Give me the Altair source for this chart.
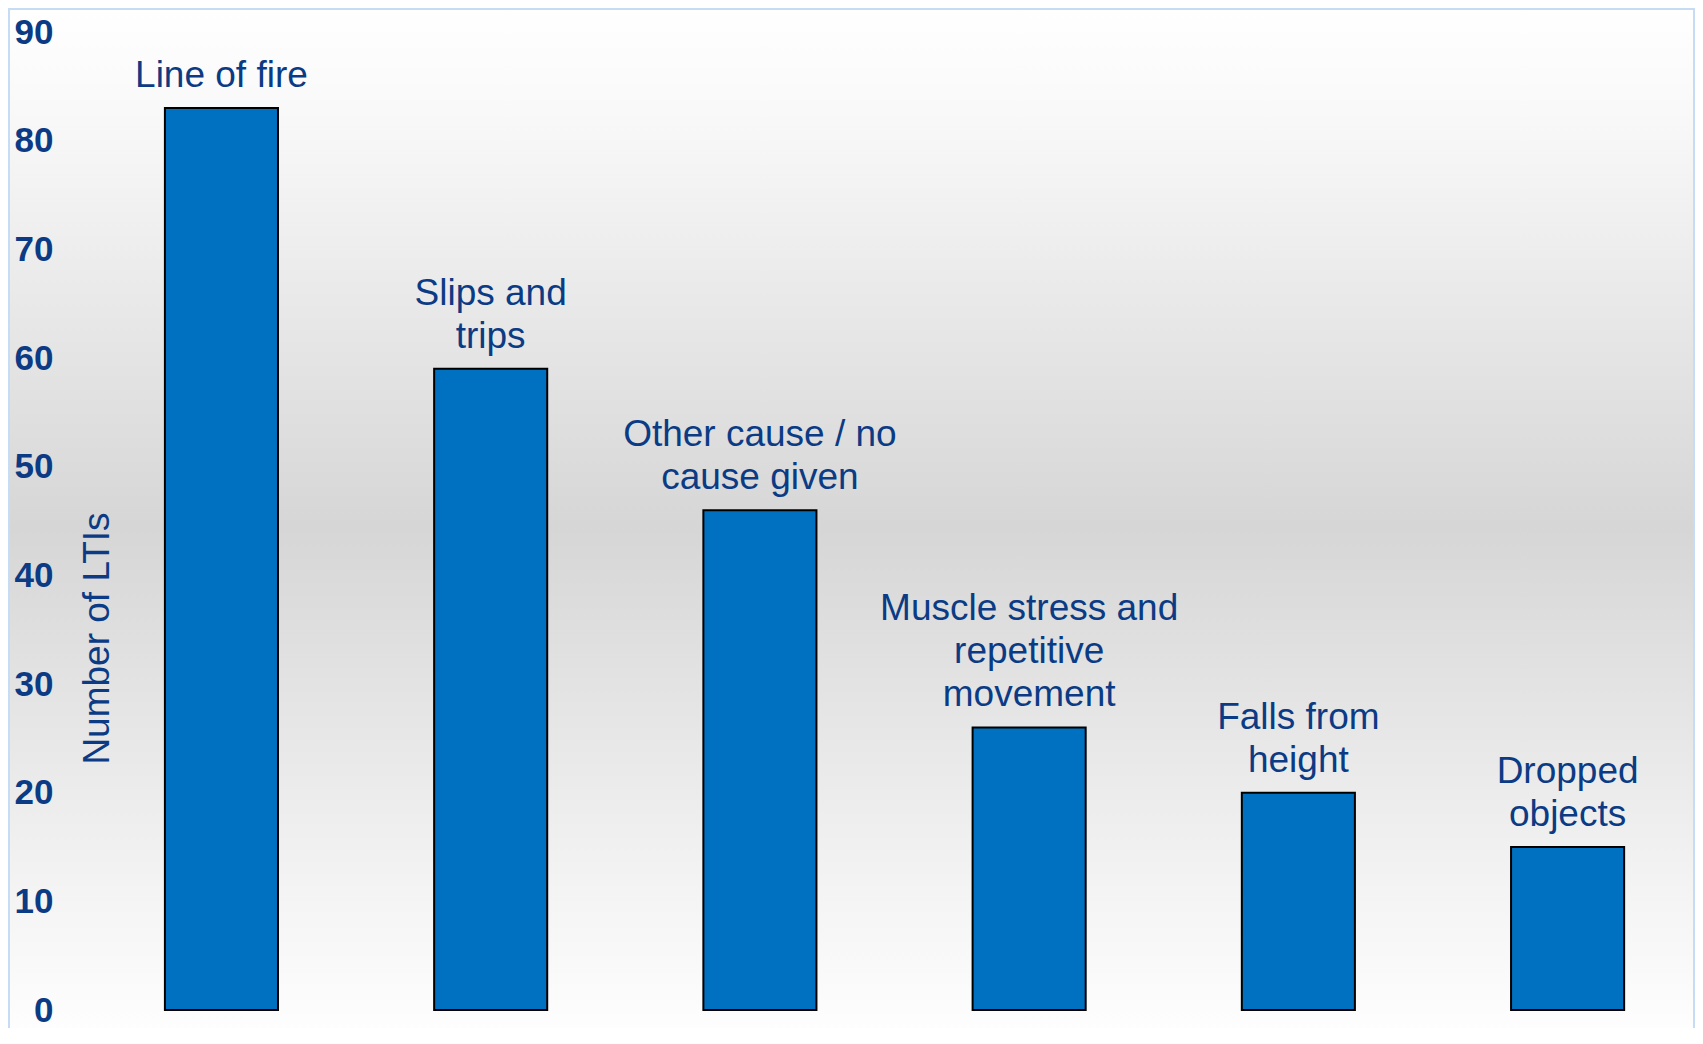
import altair as alt
import pandas as pd

categories = ["Line of fire", "Slips and trips", "Other cause / no cause given",
              "Muscle stress and repetitive movement", "Falls from height", "Dropped objects"]
values = [83, 59, 46, 26, 20, 15]
labels = ["Line of fire", "Slips and\ntrips", "Other cause / no\ncause given",
          "Muscle stress and\nrepetitive\nmovement", "Falls from\nheight", "Dropped\nobjects"]
y_ticks = [0, 10, 20, 30, 40, 50, 60, 70, 80, 90]

df = pd.DataFrame({"cause": categories, "ltis": values, "label": labels})

W, H = 1610, 978
PAD_L, PAD_T, PAD_B = 77, 24, 18
NAVY = "#0b3b84"
FONT = "Liberation Sans"
LINE_H = 43

x_enc = alt.X("cause:N", sort=categories, axis=None,
              scale=alt.Scale(paddingInner=0.58, paddingOuter=0.28, align=0.53))
y_scale = alt.Scale(domain=[0, 90], nice=False, zero=True)

base = alt.Chart(df)

bg = base.mark_rect(
    color=alt.LinearGradient(
        gradient="linear", x1=0, x2=0, y1=0, y2=1,
        stops=[
            alt.GradientStop(offset=0.0, color="#ffffff"),
            alt.GradientStop(offset=0.1, color="#f9f9f9"),
            alt.GradientStop(offset=0.5, color="#d6d6d6"),
            alt.GradientStop(offset=0.85, color="#f4f4f4"),
            alt.GradientStop(offset=1.0, color="#ffffff"),
        ],
    )
).encode(
    x=alt.value(-PAD_L), x2=alt.value(W + 10),
    y=alt.value(-PAD_T - 3), y2=alt.value(H + 40),
)

border = base.mark_rect(fill="transparent", stroke="#c6dcf5", strokeWidth=2).encode(
    x=alt.value(-PAD_L + 1), x2=alt.value(W - 1),
    y=alt.value(-PAD_T + 1), y2=alt.value(H + 60),
)

bars = base.mark_bar(color="#0070C0", stroke="black", strokeWidth=2).encode(
    x=x_enc,
    y=alt.Y("ltis:Q", scale=y_scale,
            axis=alt.Axis(values=y_ticks, title="Number of LTIs", grid=False,
                          domain=False, ticks=False, tickSize=0, labelPadding=32,
                          labelFontSize=35, labelFontWeight="bold", labelColor=NAVY,
                          labelFont=FONT, zindex=2,
                          titleFont=FONT, titleFontSize=37, titleFontWeight="normal",
                          titleColor=NAVY, titleAngle=270, titleX=23, titleY=606,
                          titleAlign="center", titleBaseline="alphabetic")),
)

text_layers = []
for n in (1, 2, 3):
    t = base.transform_calculate(
        nlines="split(datum.label, '\\n').length"
    ).transform_filter(
        alt.datum.nlines == n
    ).mark_text(
        baseline="bottom", align="center", dy=-13 - LINE_H * (n - 1), fontSize=37,
        lineHeight=LINE_H, font=FONT, color=NAVY, lineBreak="\n",
    ).encode(
        x=alt.X("cause:N", sort=categories),
        y=alt.Y("ltis:Q", scale=y_scale),
        text="label:N",
    )
    text_layers.append(t)

chart = alt.layer(bg, bars, *text_layers, border).properties(
    width=W, height=H,
    autosize=alt.AutoSizeParams(type="none"),
    padding={"left": PAD_L, "top": PAD_T, "right": 0, "bottom": PAD_B},
).configure_view(stroke=None).configure(background="white")

chart.save("out.html", embed_options={"renderer": "svg", "actions": False})
